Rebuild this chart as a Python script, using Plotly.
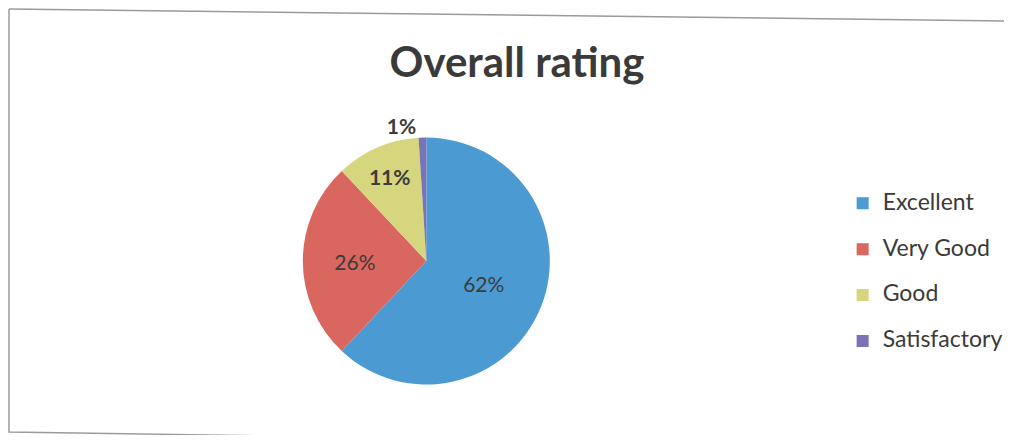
import plotly.graph_objects as go

categories = ["Excellent", "Very Good", "Good", "Satisfactory"]
values = [62, 26, 11, 1]
colors = ["#4B9BD2", "#D9665F", "#D6D67E", "#7C72B6"]
title_text = "Overall rating"

# page body has an 8px margin; figure sized to fit inside the 1016x443 window
W, H = 1000, 427
OFF = 8


def px(sx):
    return (sx - OFF) / W


def py(sy):
    return 1 - (sy - OFF) / H


cx, cy, r = 428, 261, 124

legend_labels = ["<span style='font-size:23px'>" + c + "</span><br> " for c in categories]
label_templates = ["%{percent:.0%}", "%{percent:.0%}",
                   "<b>%{percent:.0%}</b>", "<b>%{percent:.0%}</b>"]

fig = go.Figure()
fig.add_trace(go.Pie(
    labels=legend_labels,
    values=values,
    sort=False,
    direction="clockwise",
    rotation=0,
    marker=dict(colors=colors, line=dict(width=0)),
    textinfo="percent",
    texttemplate=label_templates,
    textposition=["inside", "inside", "inside", "outside"],
    insidetextorientation="horizontal",
    textfont=dict(family="Lato", size=21, color="#3C3C3C"),
    outsidetextfont=dict(family="Lato", size=21, color="#3C3C3C"),
    domain=dict(x=[px(cx - r), px(cx + r)], y=[py(cy + r), py(cy - r)]),
    hoverinfo="skip",
))

fig.update_layout(
    width=W, height=H,
    margin=dict(l=0, r=0, t=0, b=0),
    paper_bgcolor="white",
    plot_bgcolor="white",
    title=dict(text="<b>" + title_text + "</b>", x=px(517), xanchor="center",
               y=py(62), yanchor="middle",
               font=dict(family="Lato", size=42, color="#3A3A3A")),
    legend=dict(x=px(864 - 18), xanchor="left", y=py(283), yanchor="middle",
                valign="top",
                font=dict(family="Lato", size=16.5, color="#3A3A3A"),
                bgcolor="rgba(0,0,0,0)"),
    shapes=[
        dict(type="path", xref="paper", yref="paper",
             path=f"M {px(9)},{py(9)} L {px(1008)},{py(21)}",
             line=dict(color="#9A9A9A", width=1.5)),
        dict(type="path", xref="paper", yref="paper",
             path=f"M {px(9)},{py(9)} L {px(9)},{py(432)} L {px(752)},{py(443)}",
             line=dict(color="#9A9A9A", width=1.5)),
    ],
)

fig.write_html("out.html")
